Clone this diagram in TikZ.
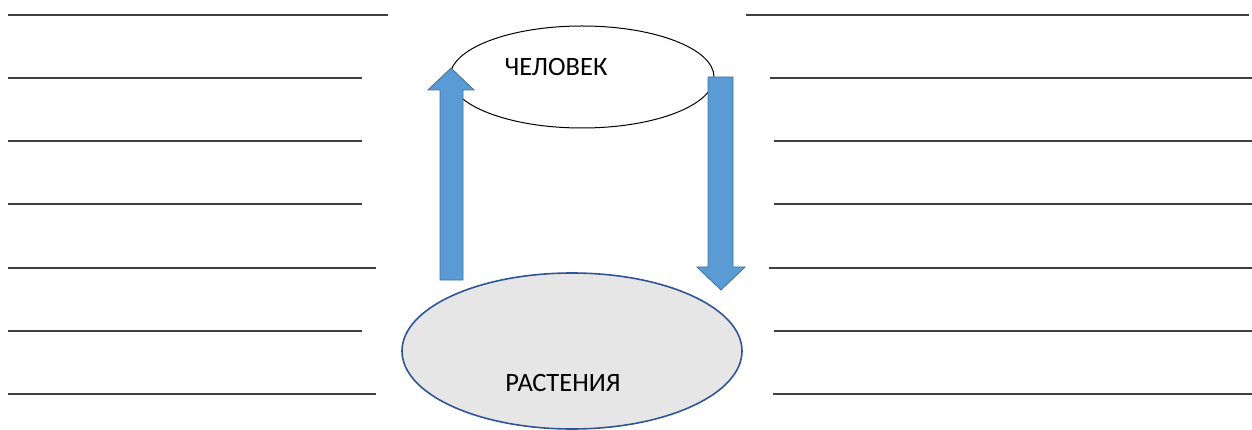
\documentclass[tikz,border=0pt]{standalone}
\usepackage{fontspec}
\setmainfont{Carlito}
\usetikzlibrary{shapes.geometric}
\definecolor{linegray}{HTML}{404040}
\definecolor{arrowfill}{HTML}{5B9BD5}
\definecolor{arrowdraw}{HTML}{41719C}
\definecolor{plantfill}{HTML}{E7E6E6}
\definecolor{plantdraw}{HTML}{2F5597}
\tikzset{
  writeline/.style={draw=linegray, line width=1.6pt},
  blockarrow/.style={fill=arrowfill, draw=arrowdraw, line width=0.8pt, line join=miter},
  labeltext/.style={font=\fontsize{26.5}{28}\selectfont, text=black}
}
\begin{document}
\begin{tikzpicture}[x=1pt,y=-1pt]
\useasboundingbox (0,0) rectangle (1252,430);
% writing lines, left
\foreach \y/\e in {15/388, 78/362, 141/362, 204/362, 268/376, 331/362, 394/376}
  \draw[writeline] (8,\y) -- (\e,\y);
% writing lines, right
\foreach \y/\s/\e in {15/746/1249, 78/770/1252, 141/774/1252, 204/774/1252, 268/769/1252, 331/774/1252, 394/773/1252}
  \draw[writeline] (\s,\y) -- (\e,\y);
% ellipses
\node[draw=black, line width=1pt, fill=white, ellipse, minimum width=264pt, minimum height=102pt, inner sep=0pt] (man) at (582,77) {};
\node[labeltext] (mantext) at (556,67) {ЧЕЛОВЕК};
\node[draw=plantdraw, line width=1.6pt, fill=plantfill, ellipse, minimum width=340pt, minimum height=156pt, inner sep=0pt] (plants) at (572,351) {};
\node[labeltext] (planttext) at (563,383) {РАСТЕНИЯ};
% up arrow
\draw[blockarrow] (440,280) -- (440,90) -- (428,90) -- (451,68) -- (474,90) -- (463,90) -- (463,280) -- cycle;
% down arrow
\draw[blockarrow] (708,77) -- (708,267) -- (697,267) -- (721,290) -- (745,267) -- (733,267) -- (733,77) -- cycle;
\end{tikzpicture}
\end{document}
